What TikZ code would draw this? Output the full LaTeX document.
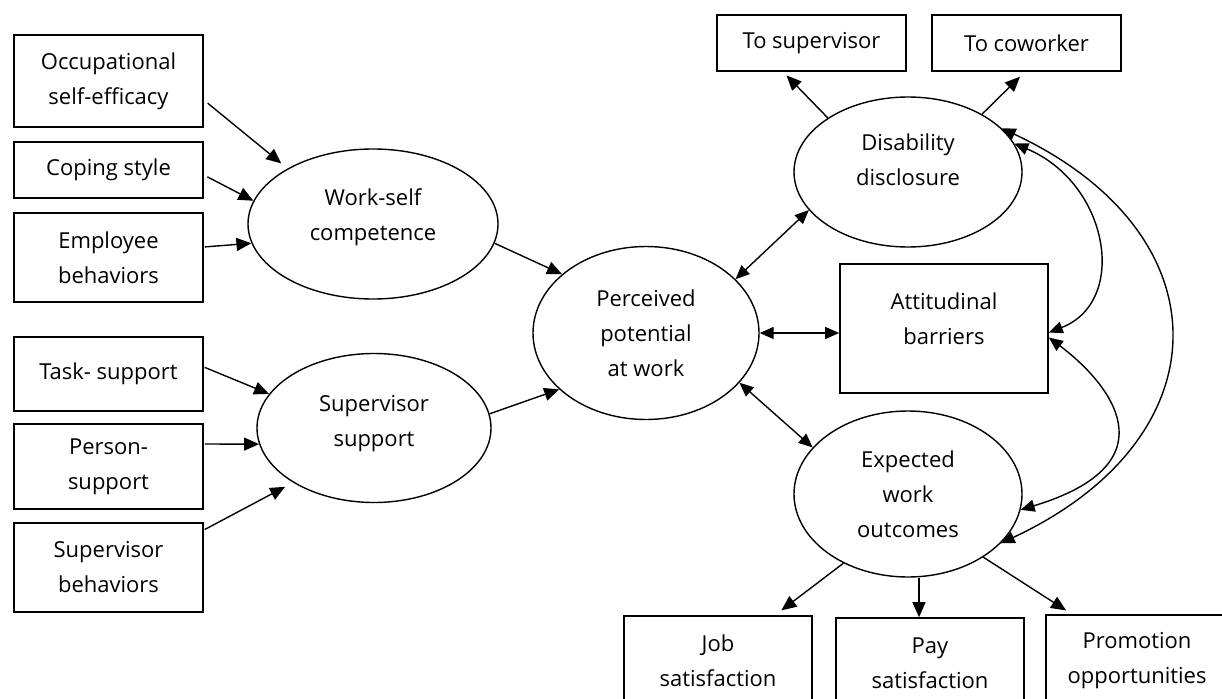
\documentclass[tikz,border=0pt]{standalone}
\usepackage{fontspec}
\setmainfont{Open Sans}
\usetikzlibrary{shapes.geometric, arrows.meta}

\newcommand{\txtlift}[1]{\rule[-#1]{0pt}{#1}}

\tikzset{
  box/.style={draw, line width=1.6pt, align=center, inner sep=0pt, minimum width=189pt},
  oval/.style={draw, ellipse, line width=1.4pt, align=center, inner sep=0pt},
  arr/.style={-{Triangle[length=15pt,width=13pt]}, line width=1.4pt},
  biarr/.style={{Triangle[length=14pt,width=12pt]}-{Triangle[length=14pt,width=12pt]}, line width=1.4pt}
}

\begin{document}
\begin{tikzpicture}[x=1pt, y=-1pt, font=\fontsize{22}{35}\selectfont]
\useasboundingbox (0,0) rectangle (1222,698);
\clip (0,0) rectangle (1222,698);
%% antecedents
\node[box, minimum height=92pt] (occ) at (108.5,81) {Occupational\\self-efficacy};
\node[box, minimum height=56pt] (cop) at (108.5,170) {Coping style};
\node[box, minimum height=89pt] (emp) at (108.5,257.5) {Employee\\behaviors};
\node[box, minimum height=74pt] (task) at (108.5,374) {Task- support};
\node[box, minimum height=85pt] (pers) at (108.5,466.5) {Person-\\support};
\node[box, minimum height=89pt] (sbeh) at (108.5,567.5) {Supervisor\\behaviors};

%% latent constructs
\node[oval, minimum width=250pt, minimum height=150pt] (ws) at (373,224) {Work-self\\competence\txtlift{18pt}};
\node[oval, minimum width=234pt, minimum height=149pt] (ss) at (374,428) {Supervisor\\support\txtlift{15pt}};
\node[oval, minimum width=226pt, minimum height=173pt] (pp) at (646,333) {Perceived\\potential\\at work};
\node[oval, minimum width=228pt, minimum height=150pt] (dd) at (908,172) {Disability\\disclosure\txtlift{24pt}};
\node[oval, minimum width=228pt, minimum height=166pt] (ew) at (908,494) {Expected\\work\\outcomes};

%% outcomes
\node[box, minimum height=56pt] (tsup) at (811.5,43) {To supervisor};
\node[box, minimum height=56pt] (tco) at (1026.5,43) {To coworker};
\node[box, minimum width=208pt, minimum height=129pt] (att) at (944,328.5) {Attitudinal\\barriers\txtlift{20pt}};
\node[box, minimum width=188pt, minimum height=90pt] (job) at (718,661) {Job\\satisfaction};
\node[box, minimum width=188pt, minimum height=90pt] (pay) at (930,663) {Pay\\satisfaction};
\node[box, minimum width=182pt, minimum height=92pt] (prom) at (1137,661) {Promotion\\opportunities};

\draw[arr, shorten <=5pt, shorten >=8pt] ([yshift=-19pt]occ.east) -- (ws.147);
\draw[arr, shorten <=4pt] ([yshift=-5pt]cop.east) -- (ws.169);
\draw[arr, shorten <=1pt] ([yshift=10.5pt]emp.east) -- (ws.189);
\draw[arr, shorten <=1pt] ([yshift=7pt]task.east) -- (ss.162);
\draw[arr, shorten <=1pt] ([yshift=22.5pt]pers.east) -- (ss.188);
\draw[arr, shorten <=1pt, shorten >=9pt] ([yshift=37.5pt]sbeh.east) -- (ss.214);

\draw[arr] (ws.351) -- (pp.145);
\draw[arr] (ss.7) -- (pp.213);
\draw[biarr] (pp.31) -- (dd.201);
\draw[biarr] (pp.east) -- (pp.east -| att.west);
\draw[biarr] (pp.332) -- (ew.154);

\draw[arr, shorten >=5pt] (dd.146) -- ([xshift=-28.5pt]tsup.south);
\draw[arr, shorten >=7pt] (dd.38) -- ([xshift=-1.5pt]tco.south);
\draw[arr, shorten >=8pt] (ew.227) -- ([xshift=57pt]job.north);
\draw[arr] ([xshift=11pt]ew.south) -- ([xshift=-11pt]pay.north);
\draw[arr, shorten >=7pt] (ew.320) -- ([xshift=-65pt]prom.north);

%% correlations
\draw[biarr] (dd.15) .. controls +(95,40) and +(80,-31) .. ([yshift=-4pt]att.east);
\draw[biarr] ([yshift=-9pt]att.east) .. controls +(60,45) and +(155,-47) .. (ew.352);
\draw[biarr] (dd.25) .. controls +(225,105) and +(225,-105) .. (ew.332);
\end{tikzpicture}
\end{document}
